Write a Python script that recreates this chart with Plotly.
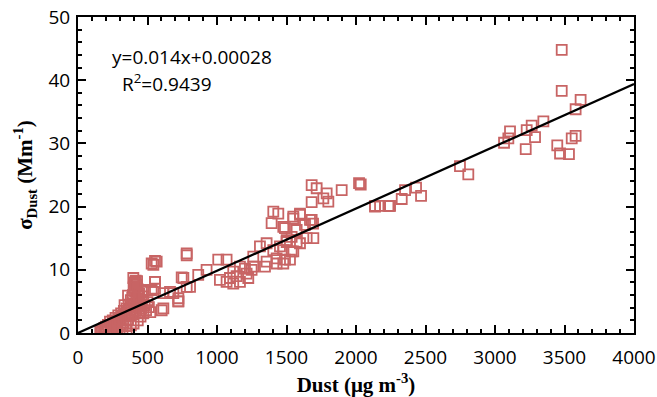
import plotly.graph_objects as go

dust = [
    3480, 3480, 3616, 3580, 3348, 3264, 3228, 3108, 3096, 3065, 3288, 3221, 3580, 3552, 3448, 3468, 3532,
    2748, 2808, 2353, 2432, 2329, 2468, 2245, 2137, 2240, 2173,
    1681, 1717, 1897, 2022, 2034, 1789, 1765, 1801, 1681, 2137, 2233,
    1597, 1549, 1681, 1633, 1691, 1489, 1573, 1645, 1573, 1537, 1489, 1453, 1501,
    1405, 1441, 1393, 1477, 1597, 1549, 1669, 1693, 1309, 1357, 1261, 1429, 1357, 1429, 1261,
    1549, 1477, 1405, 1525, 1477, 1345, 1537, 1597, 1501,
    1165, 1117, 1213, 1021, 1069, 1117, 1165, 1225, 1093, 1141, 1249, 1201,
    1009, 1069, 925, 865, 806, 758, 782, 686, 722, 722, 614, 614, 554, 554, 542, 566, 470,
    530, 554, 782, 554, 746, 782, 662, 722, 602, 470, 530,
    160, 170, 180, 190, 200, 205, 215, 220, 230, 240, 245, 250, 260, 265, 270, 280, 285, 290, 300, 305,
    310, 320, 325, 330, 340, 345, 350, 355, 360, 365, 370, 375, 380, 385, 390, 395, 400, 400, 405, 410,
    410, 415, 420, 420, 425, 430, 430, 435, 440, 445, 450, 455, 460, 470, 480, 490, 500, 510, 520, 350,
    300, 250, 400, 320, 280, 430, 380, 398, 412, 425, 440, 390, 455, 470, 360, 335,
]
sigma = [
    44.8, 38.3, 36.9, 35.4, 33.5, 32.8, 32.1, 31.9, 30.8, 30.1, 31.0, 29.1, 31.2, 30.8, 29.7, 28.4, 28.3,
    26.4, 25.1, 22.6, 23.0, 21.2, 21.7, 20.1, 20.0, 20.1, 20.1,
    23.4, 22.9, 22.6, 23.7, 23.5, 22.1, 21.3, 20.8, 20.7, 20.1, 20.1,
    18.9, 18.4, 17.9, 17.1, 17.3, 16.6, 16.3, 15.0, 14.4, 12.9, 11.6, 13.7, 14.7,
    19.2, 18.9, 17.4, 16.8, 18.7, 18.1, 17.9, 15.0, 13.7, 14.2, 12.1, 11.8, 11.3, 11.0, 10.5,
    12.9, 13.1, 13.1, 11.6, 11.0, 10.5, 15.2, 14.2, 14.4,
    10.5, 9.7, 9.4, 8.4, 8.1, 7.8, 8.1, 8.7, 8.7, 9.0, 10.0, 10.2,
    11.6, 11.6, 10.0, 9.2, 7.3, 8.7, 12.6, 6.3, 5.5, 5.0, 6.3, 3.9, 8.1, 7.0, 10.8, 11.3, 6.8,
    11.0, 11.4, 12.3, 8.1, 8.8, 7.3, 6.5, 5.0, 3.6, 6.5, 6.8,
    0.2, 0.5, 0.3, 0.8, 1.0, 0.4, 1.3, 0.6, 1.8, 1.1, 0.3, 2.0, 1.5, 0.7, 2.4, 1.9, 0.9, 2.8, 2.2, 1.3,
    3.1, 2.6, 1.6, 3.5, 2.9, 1.1, 3.9, 3.3, 2.1, 4.5, 3.7, 2.7, 5.2, 4.1, 3.0, 6.0, 7.2, 4.7, 8.0, 6.6,
    3.5, 8.3, 7.6, 5.5, 8.2, 6.9, 4.2, 5.9, 3.3, 4.8, 2.6, 3.9, 5.2, 3.1, 4.4, 3.6, 4.9, 4.1, 3.3, 0.4,
    0.1, 0.0, 1.5, 0.6, 0.2, 2.0, 1.2, 8.7, 7.9, 7.4, 6.2, 5.6, 4.5, 5.8, 5.9, 4.4,
]

fit_x = [0, 4000]
fit_y = [0, 39.4]

x_ticks = [0, 500, 1000, 1500, 2000, 2500, 3000, 3500, 4000]
y_ticks = [0, 10, 20, 30, 40, 50]

marker_color = "rgb(200,100,100)"

fig = go.Figure()
fig.add_trace(go.Scatter(
    x=dust, y=sigma, mode="markers",
    marker=dict(symbol="square-open", size=10, color=marker_color, line=dict(width=1.8, color=marker_color)),
    showlegend=False,
))
fig.add_trace(go.Scatter(
    x=fit_x, y=fit_y, mode="lines",
    line=dict(color="black", width=2.2), showlegend=False,
))

axis_common = dict(
    showline=True, linecolor="black", linewidth=2, mirror="allticks",
    ticks="inside", ticklen=8, tickwidth=2, tickcolor="black",
    showgrid=False, zeroline=False, automargin=False,
    tickfont=dict(family="Open Sans, Liberation Sans, sans-serif", size=19, color="black"),
)

fig.update_xaxes(
    range=[0, 4000], tickvals=x_ticks, ticktext=[str(v) for v in x_ticks],
    ticklabelstandoff=6,
    minor=dict(ticks="inside", ticklen=4, tickwidth=1.5, tickcolor="black", dtick=100),
    title=dict(text="<b>Dust (μg m<sup>-3</sup>)</b>",
               font=dict(family="Liberation Serif, Times New Roman, serif", size=21, color="black"),
               standoff=4),
    **axis_common,
)
fig.update_yaxes(
    range=[0, 50], tickvals=y_ticks, ticktext=[str(v) for v in y_ticks],
    ticklabelstandoff=2,
    minor=dict(ticks="inside", ticklen=4, tickwidth=1.5, tickcolor="black", dtick=2),
    title=dict(text="<b>σ<sub>Dust</sub> (Mm<sup>-1</sup>)</b>",
               font=dict(family="Liberation Serif, Times New Roman, serif", size=21, color="black"),
               standoff=10),
    **axis_common,
)

fig.add_annotation(x=0.057, y=0.872, xref="paper", yref="paper", xanchor="left", yanchor="middle",
                   text="y=0.014x+0.00028", showarrow=False,
                   font=dict(family="Open Sans, Liberation Sans, sans-serif", size=19, color="black"))
fig.add_annotation(x=0.075, y=0.79, xref="paper", yref="paper", xanchor="left", yanchor="middle",
                   text="R<sup>2</sup>=0.9439", showarrow=False,
                   font=dict(family="Open Sans, Liberation Sans, sans-serif", size=19, color="black"))

fig.update_layout(
    width=657, height=397,
    margin=dict(l=78, r=23, t=17, b=64),
    paper_bgcolor="white", plot_bgcolor="white",
)

fig.write_html("out.html")
